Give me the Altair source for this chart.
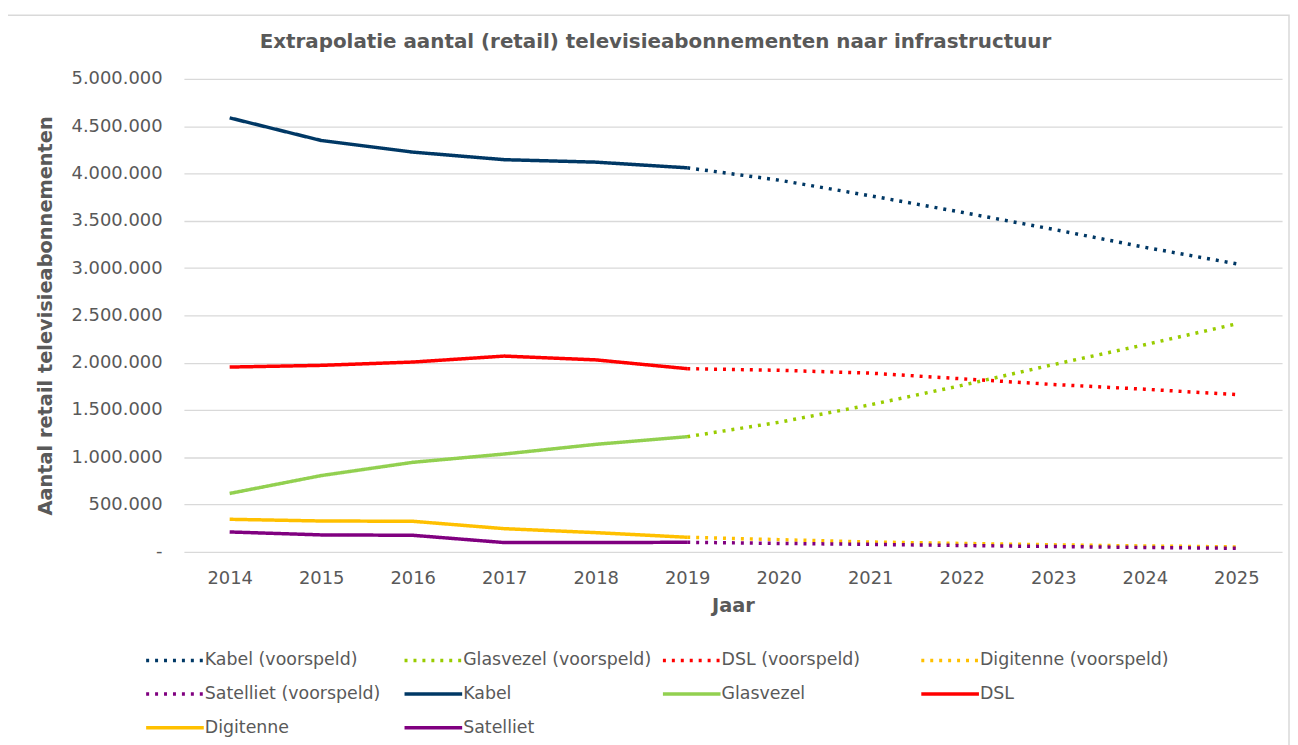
import altair as alt
import pandas as pd

# ---------------- data ----------------
hist_years = ["2014", "2015", "2016", "2017", "2018", "2019"]
fc_years = ["2019", "2020", "2021", "2022", "2023", "2024", "2025"]
all_years = ["2014", "2015", "2016", "2017", "2018", "2019",
             "2020", "2021", "2022", "2023", "2024", "2025"]

kabel_hist = [4588000, 4349000, 4226000, 4146000, 4120000, 4060000]
glas_hist = [618000, 807000, 947000, 1035000, 1137000, 1218000]
dsl_hist = [1954000, 1972000, 2007000, 2070000, 2030000, 1937000]
digi_hist = [345000, 327000, 324000, 246000, 204000, 155000]
sat_hist = [211000, 180000, 176000, 99000, 99000, 102000]

kabel_fc = [4060000, 3930000, 3765000, 3590000, 3410000, 3220000, 3046000]
glas_fc = [1218000, 1370000, 1555000, 1760000, 1980000, 2190000, 2410000]
dsl_fc = [1937000, 1920000, 1890000, 1830000, 1770000, 1720000, 1663000]
digi_fc = [155000, 130000, 105000, 90000, 75000, 63000, 53000]
sat_fc = [102000, 90000, 80000, 68000, 57000, 47000, 39000]

series_order = [
    "Kabel (voorspeld)", "Glasvezel (voorspeld)", "DSL (voorspeld)",
    "Digitenne (voorspeld)", "Satelliet (voorspeld)",
    "Kabel", "Glasvezel", "DSL", "Digitenne", "Satelliet",
]
series_colors = [
    "#003865", "#99CC00", "#FF0000", "#FFC000", "#800080",
    "#003865", "#92D050", "#FF0000", "#FFC000", "#800080",
]
dot = [3, 6]
solid = [1, 0]
series_dash = [dot] * 5 + [solid] * 5
series_width = [3.5] * 5 + [4] * 5

rows = []
for name, vals in [("Kabel (voorspeld)", kabel_fc), ("Glasvezel (voorspeld)", glas_fc),
                   ("DSL (voorspeld)", dsl_fc), ("Digitenne (voorspeld)", digi_fc),
                   ("Satelliet (voorspeld)", sat_fc)]:
    for y, v in zip(fc_years, vals):
        rows.append({"Jaar": y, "Serie": name, "Waarde": v})
for name, vals in [("Kabel", kabel_hist), ("Glasvezel", glas_hist), ("DSL", dsl_hist),
                   ("Digitenne", digi_hist), ("Satelliet", sat_hist)]:
    for y, v in zip(hist_years, vals):
        rows.append({"Jaar": y, "Serie": name, "Waarde": v})
df = pd.DataFrame(rows)

FONT = "DejaVu Sans"
GREY = "#595959"

x_enc = alt.X(
    "Jaar:O",
    scale=alt.Scale(type="point", domain=all_years, padding=0.5),
    axis=alt.Axis(title="Jaar", labelAngle=0, ticks=False, domain=False,
                  labelPadding=18, titlePadding=9),
)
y_enc = alt.Y(
    "Waarde:Q",
    scale=alt.Scale(domain=[0, 5000000], nice=False),
    axis=alt.Axis(
        title="Aantal retail televisieabonnementen",
        values=[0, 500000, 1000000, 1500000, 2000000, 2500000, 3000000,
                3500000, 4000000, 4500000, 5000000],
        labelExpr="datum.value == 0 ? '-' : replace(format(datum.value, ',.0f'), /,/g, '.')",
        ticks=False, domain=False, labelPadding=22, titlePadding=16,
    ),
)

lines = alt.Chart(df).mark_line(strokeCap="butt", strokeJoin="round").encode(
    x=x_enc,
    y=y_enc,
    color=alt.Color("Serie:N", scale=alt.Scale(domain=series_order, range=series_colors),
                    sort=series_order, title=None,
                    legend=alt.Legend(orient="none", legendX=-40, legendY=573,
                                      direction="horizontal", columns=4,
                                      gridAlign="all", columnPadding=3,
                                      rowPadding=13, symbolSize=400,
                                      symbolType="M-2.9,0H2.9", symbolOffset=19,
                                      labelOffset=18, symbolStrokeWidth=4)),
    strokeDash=alt.StrokeDash("Serie:N", scale=alt.Scale(domain=series_order, range=series_dash),
                              sort=series_order, title=None),
    strokeWidth=alt.StrokeWidth("Serie:N", scale=alt.Scale(domain=series_order, range=series_width),
                                sort=series_order, title=None, legend=None),
    detail="Serie:N",
)

frame = alt.Chart(alt.Data(values=[{}])).mark_rect(
    filled=False, stroke="#D9D9D9", strokeWidth=1.5
).encode(
    x=alt.value(-182), x2=alt.value(1112), y=alt.value(-64), y2=alt.value(720)
)

chart = alt.layer(frame, lines).properties(
    width=1105,
    height=476,
    autosize=alt.AutoSizeParams(type="none"),
    padding={"left": 177, "top": 69, "right": 8, "bottom": 200},
    title=alt.Title("Extrapolatie aantal (retail) televisieabonnementen naar infrastructuur",
                    anchor="middle", frame="group", dx=-78, dy=38, offset=0),
).configure_view(
    stroke=None
).configure_axis(
    labelFont=FONT, labelFontSize=18, labelColor=GREY,
    titleFont=FONT, titleFontSize=19.5, titleFontWeight="bold", titleColor=GREY,
    gridColor="#D9D9D9", gridWidth=1.3,
).configure_legend(
    labelFont=FONT, labelFontSize=17.5, labelColor=GREY, labelLimit=400,
).configure_title(
    font=FONT, fontSize=20, fontWeight="bold", color=GREY,
)

chart.save("out.html", embed_options={"renderer": "svg", "actions": False})
